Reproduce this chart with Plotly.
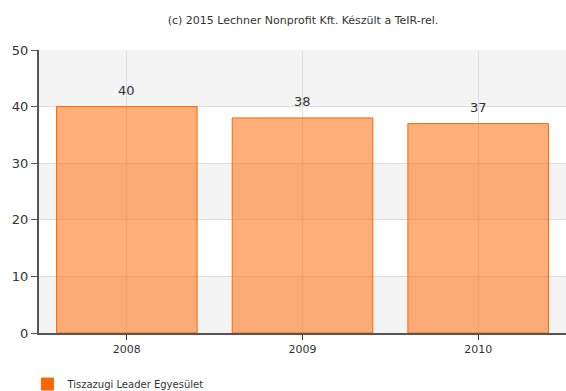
import plotly.graph_objects as go

years = ["2008", "2009", "2010"]
values = [40, 38, 37]
series_name = "Tiszazugi Leader Egyesület"
title_text = "(c) 2015 Lechner Nonprofit Kft. Készült a TeIR-rel."
y_ticks = [0, 10, 20, 30, 40, 50]

FONT = "DejaVu Sans"
ORANGE = "#ff6600"

W, H = 566, 391

fig = go.Figure()
fig.add_trace(go.Bar(
    x=years, y=values, name=series_name,
    marker=dict(color="rgba(255,102,0,0.52)", line=dict(color=ORANGE, width=1)),
    width=0.8,
    showlegend=False,
))
# legend entry with a solid swatch
fig.add_trace(go.Bar(
    x=[years[0]], y=[None], name=series_name,
    marker=dict(color=ORANGE, line=dict(color=ORANGE, width=1)),
    showlegend=True, hoverinfo="skip",
))

# alternating background bands
shapes = []
for i in range(len(y_ticks) - 1):
    if i % 2 == 0:
        shapes.append(dict(type="rect", xref="paper", yref="y", x0=0, x1=1,
                           y0=y_ticks[i], y1=y_ticks[i + 1],
                           fillcolor="#f4f4f4", line=dict(width=0), layer="below"))

annotations = [
    dict(x=i, y=v, text=str(v), showarrow=False, yshift=16, xref="x", yref="y",
         font=dict(family=FONT, size=13, color="#333333"))
    for i, v in enumerate(values)
]

fig.update_layout(
    width=W, height=H,
    margin=dict(l=39, r=0, t=50, b=58, autoexpand=False),
    paper_bgcolor="white", plot_bgcolor="white",
    font=dict(family=FONT, color="#333333"),
    title=dict(text=title_text, x=303 / W, xref="container", xanchor="center",
               y=1 - 20 / H, yref="container", yanchor="middle",
               font=dict(family=FONT, size=11, color="#333333")),
    shapes=shapes,
    annotations=annotations,
    barmode="overlay",
    showlegend=True,
    legend=dict(orientation="h", x=-0.022, xanchor="left", y=-0.129, yanchor="top",
                font=dict(family=FONT, size=10, color="#333333")),
    xaxis=dict(type="category", range=[-0.5, 2.5], showgrid=True, gridcolor="#dddddd", gridwidth=1,
               showline=True, linecolor="#555555", linewidth=2,
               ticks="outside", ticklen=5, tickcolor="#333333",
               tickfont=dict(family=FONT, size=11, color="#333333")),
    yaxis=dict(range=[0, 50], tickvals=y_ticks, showgrid=True, gridcolor="#dddddd", gridwidth=1,
               showline=True, linecolor="#555555", linewidth=2, zeroline=False,
               ticks="outside", ticklen=6, tickcolor="#555555",
               tickfont=dict(family=FONT, size=13, color="#333333")),
)

fig.write_html(
    "out.html",
    config={"displayModeBar": False},
    post_script="document.body.style.margin='0';document.body.style.overflow='hidden';",
)
